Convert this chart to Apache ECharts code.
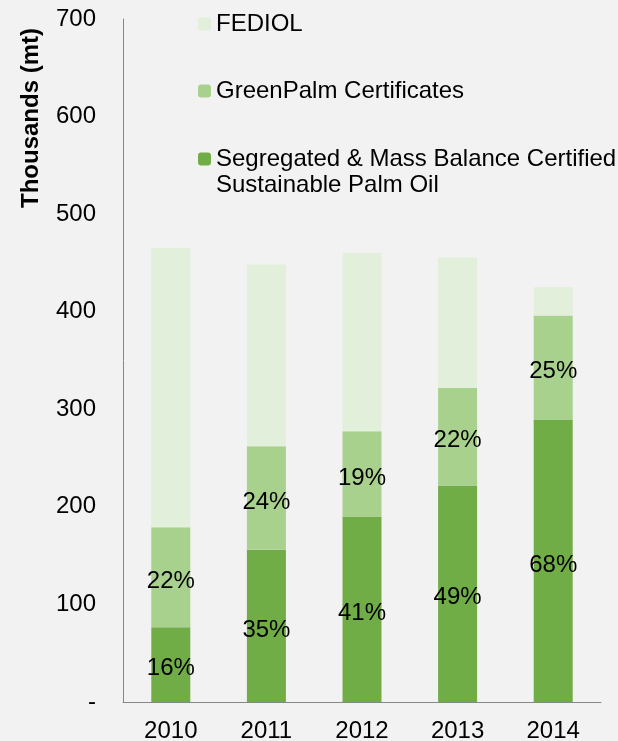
<!DOCTYPE html>
<html>
<head>
<meta charset="utf-8">
<script src="https://cdn.jsdelivr.net/npm/echarts@6/dist/echarts.min.js"></script>
<style>
html,body{margin:0;padding:0;background:#F2F2F2;}
#chart{width:618px;height:741px;}
</style>
</head>
<body>
<div id="chart"></div>
<script>
var years = ['2010', '2011', '2012', '2013', '2014'];
var segregated = [76.5, 156, 190, 222, 289];
var greenPalm = [102.5, 106, 87.5, 100, 107];
var fediol = [286.5, 186.5, 183, 133.5, 29];
var segregatedPct = ['16%', '35%', '41%', '49%', '68%'];
var greenPalmPct = ['22%', '24%', '19%', '22%', '25%'];
var yTickLabels = {0: '-', 100: '100', 200: '200', 300: '300', 400: '400', 500: '500', 600: '600', 700: '700'};

var FONT = 'Liberation Sans, Arial, sans-serif';
var FS = 24;
var chart = echarts.init(document.getElementById('chart'), null, {renderer: 'canvas'});

function withLabels(vals, labels) {
  return vals.map(function (v, i) { return {value: v, label: {formatter: labels[i]}}; });
}

var legendBase = {
  orient: 'vertical', left: 193, itemWidth: 13, itemHeight: 13, itemGap: 0,
  textStyle: {fontFamily: FONT, fontSize: FS, color: '#000', lineHeight: 26},
  selectedMode: false
};

chart.setOption({
  backgroundColor: '#F2F2F2',
  animation: false,
  grid: {left: 123, right: 17, top: 19, bottom: 39, outerBoundsMode: 'none', containLabel: false},
  legend: [
    Object.assign({}, legendBase, {top: 6, data: ['FEDIOL']}),
    Object.assign({}, legendBase, {top: 73, data: ['GreenPalm Certificates']}),
    Object.assign({}, legendBase, {top: 115, data: ['Segregated & Mass Balance Certified\nSustainable Palm Oil'],
      formatter: function (name) { return ' \n' + name; }})
  ],
  graphic: [{
    type: 'text', left: 19, top: 28, rotation: Math.PI / 2,
    style: {text: 'Thousands (mt)', font: 'bold ' + FS + 'px ' + FONT, fill: '#000'}
  }],
  xAxis: {
    type: 'category', data: years,
    axisLine: {lineStyle: {color: '#878787', width: 1}},
    axisTick: {show: false},
    axisLabel: {fontFamily: FONT, fontSize: FS, color: '#000', margin: 17}
  },
  yAxis: {
    type: 'value', min: 0, max: 700, interval: 100,
    splitLine: {show: false},
    axisLine: {show: true, lineStyle: {color: '#878787', width: 1}},
    axisTick: {show: false},
    axisLabel: {fontFamily: FONT, fontSize: FS, color: '#000', margin: 27,
      formatter: function (v) { return yTickLabels[v]; }}
  },
  series: [
    {
      name: 'Segregated & Mass Balance Certified\nSustainable Palm Oil', type: 'bar', stack: 'total', barWidth: 39,
      itemStyle: {color: '#70AD47'},
      label: {show: true, position: 'inside', offset: [0, 4], fontFamily: FONT, fontSize: FS, color: '#000'},
      data: withLabels(segregated, segregatedPct)
    },
    {
      name: 'GreenPalm Certificates', type: 'bar', stack: 'total', barWidth: 39,
      itemStyle: {color: '#A9D18E'},
      label: {show: true, position: 'inside', offset: [0, 4], fontFamily: FONT, fontSize: FS, color: '#000'},
      data: withLabels(greenPalm, greenPalmPct)
    },
    {
      name: 'FEDIOL', type: 'bar', stack: 'total', barWidth: 39,
      itemStyle: {color: '#E2EFDA'},
      data: fediol
    }
  ]
});
</script>
</body>
</html>
